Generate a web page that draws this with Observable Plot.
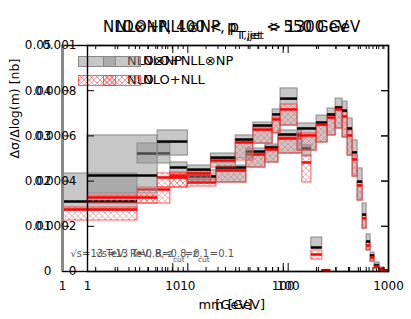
<!DOCTYPE html>
<html><head><meta charset="utf-8">
<script src="https://cdn.jsdelivr.net/npm/d3@7"></script>
<script src="https://cdn.jsdelivr.net/npm/@observablehq/plot@0.6"></script>
<style>
body{margin:0;background:#fff;}
#wrap{position:relative;width:411px;height:319px;overflow:hidden;font-family:"DejaVu Sans",sans-serif;}
.layer{position:absolute;left:0;top:0;width:411px;height:319px;}
.layer svg{position:absolute;left:0;top:0;}
.leg{position:absolute;font-size:13px;line-height:14px;white-space:nowrap;color:#000;}
.gbox{position:absolute;width:36px;height:9px;background:rgba(144,144,144,.5);border:1px solid #888;}
.hbox{position:absolute;width:36px;height:9px;border:1px solid rgba(255,48,48,.7);
 background:repeating-linear-gradient(45deg,transparent 0 3px,rgba(255,80,80,.6) 3px 3.7px),repeating-linear-gradient(-45deg,transparent 0 3px,rgba(255,80,80,.6) 3px 3.7px);}
</style></head>
<body><div id="wrap"><div class="layer" id="la"></div><div class="layer" id="lb"></div></div>
<script>
// ---------- chart B (NLO+NLL ⊗ NP), y up to 0.001 ----------
const edgesB = [1, 5, 10, 17, 30, 45, 70, 84, 124, 192, 247, 297, 349, 391, 439, 492, 552, 605, 663, 727, 815, 914, 1000];
const grayHiB = [0.000602, 0.000624, 0.000469, 0.000522, 0.000602, 0.000659, 0.000717, 0.00081, 0.000655, 0.00069, 0.000721, 0.000765, 0.000752, 0.000677, 0.00058, 0.000456, 0.000301, 0.000164, 0.000084, 0.00004, 0.000018, 0.0000066];
const grayLoB = [0.000345, 0.000513, 0.000403, 0.000478, 0.0005, 0.000566, 0.000611, 0.000646, 0.000535, 0.000571, 0.000602, 0.000633, 0.000593, 0.000513, 0.00042, 0.000314, 0.00019, 0.000093, 0.000044, 0.000013, 0.0000044, 0];
const blackB = [0.000425, 0.000575, 0.000451, 0.000504, 0.000584, 0.000646, 0.000695, 0.000765, 0.000633, 0.000659, 0.000695, 0.000726, 0.000712, 0.000633, 0.000527, 0.000398, 0.000252, 0.000133, 0.000071, 0.000027, 0.000011, 0.0000044];
const redHiB = [0.000336, 0.000434, 0.000447, 0.0005, 0.00058, 0.000637, 0.000681, 0.000739, 0.000611, 0.000659, 0.00069, 0.000726, 0.000704, 0.000624, 0.000513, 0.000394, 0.000248, 0.000128, 0.000071, 0.000031, 0.000013, 0.0000044];
const redLoB = [0.000301, 0.000372, 0.000394, 0.00046, 0.000491, 0.000566, 0.000611, 0.000646, 0.000535, 0.000571, 0.000602, 0.000633, 0.000593, 0.000513, 0.00042, 0.000314, 0.00019, 0.000093, 0.000044, 0.000013, 0.0000044, 0];
const redB = [0.000327, 0.000416, 0.000434, 0.000491, 0.000571, 0.000628, 0.000673, 0.000717, 0.000602, 0.00065, 0.000681, 0.000717, 0.000686, 0.000602, 0.000496, 0.000381, 0.000235, 0.000115, 0.000062, 0.000022, 0.0000088, 0.000003];
const yTicksB = [0, 0.0002, 0.0004, 0.0006, 0.0008, 0.001];
const xTicksB = [1, 10, 100, 1000];
const titleB = "NLO+NLL⊗NP, p_{T,jet} > 1300 GeV";
const legendB = ["NLO+NLL⊗NP", "NLO+NLL"];

// ---------- chart A (NLO ⊗ NP), y up to 0.05 ----------
const edgesA = [1, 4.78, 9.5, 13.6, 24.8, 46.4, 69, 90.5, 149, 180, 226, 268];
const grayHiA = [0.02168, 0.02832, 0.02412, 0.02235, 0.02345, 0.02721, 0.0281, 0.0312, 0.02788, 0.00752, 0.0003];
const grayLoA = [0.0135, 0.0239, 0.02058, 0.02013, 0.01969, 0.02301, 0.02412, 0.0261, 0.02544, 0.00509, 0.0001];
const blackA = [0.01549, 0.0261, 0.02301, 0.02102, 0.02301, 0.02655, 0.02743, 0.03031, 0.02721, 0.00531, 0.0002];
const redHiA = [0.01416, 0.01858, 0.0219, 0.02035, 0.02279, 0.02633, 0.02766, 0.02987, 0.02566, 0.00465, 0.00035];
const redLoA = [0.01128, 0.01504, 0.01858, 0.01881, 0.01969, 0.02301, 0.02412, 0.0261, 0.01969, 0.00265, 0.00005];
const redA = [0.01372, 0.01814, 0.02124, 0.01969, 0.02235, 0.02589, 0.02699, 0.02943, 0.02412, 0.00376, 0.0002];
const yTicksA = [0, 0.01, 0.02, 0.03, 0.04, 0.05];
const xTicksA = [1, 10, 100];
const titleA = "NLO⊗NP, 400 < p_{T,jet} < 550 GeV";
const legendA = ["NLO⊗NP", "NLO"];

const minorX = [2,3,4,5,6,7,8,9,20,30,40,50,60,70,80,90,200,300,400,500,600,700,800,900];
const xLabel = "m [GeV]";
const yLabel = "Δσ/Δlog(m) [nb]";
const note = "√s=13 TeV, R=0.8, z_{cut}=0.1";

function rowsOf(edges, gLo, gHi, k, rLo, rHi, r) {
  return gHi.map((_, i) => ({lo: edges[i], hi: edges[i+1], gLo: gLo[i], gHi: gHi[i], k: k[i], rLo: rLo[i], rHi: rHi[i], r: r[i]}));
}

function subscripts(svg) {
  svg.querySelectorAll("text").forEach(t => {
    const s = t.textContent;
    if (!s.includes("_{")) return;
    while (t.firstChild) t.removeChild(t.firstChild);
    const parts = s.split(/(_\{[^}]*\})/);
    for (const p of parts) {
      if (!p) continue;
      const ts = document.createElementNS("http://www.w3.org/2000/svg", "tspan");
      if (p.startsWith("_{")) {
        ts.textContent = p.slice(2, -1);
        ts.setAttribute("baseline-shift", "sub");
        ts.setAttribute("font-size", "75%");
      } else ts.textContent = p;
      t.appendChild(ts);
    }
  });
}

function chart({rows, xDomain, marginLeft, yMax, yTicks, xTicks, title, pid, showYLabel, leftGray}) {
  const W = 411, H = 319, mt = 45, mb = 48, mr = 23;
  const fh = H - mt - mb, fw = W - marginLeft - mr;
  const marks = [
    Plot.rect(rows, {x1: "lo", x2: "hi", y1: "gLo", y2: "gHi", fill: "#909090", fillOpacity: 0.5, stroke: "#8a8a8a", strokeWidth: 1}),
    Plot.rect(rows, {x1: "lo", x2: "hi", y1: "rLo", y2: "rHi", fill: `url(#${pid})`, stroke: "#ff3030", strokeOpacity: 0.65, strokeWidth: 1.2}),
    Plot.ruleY(rows, {y: "k", x1: "lo", x2: "hi", stroke: "#000", strokeWidth: 2.5}),
    Plot.ruleY(rows, {y: "r", x1: "lo", x2: "hi", stroke: "#ff0000", strokeWidth: 2.5}),
    Plot.tickX(xTicks, {x: d => d, insetTop: fh - 8, stroke: "#000"}),
    Plot.tickX(minorX.filter(v => v <= xDomain[1]), {x: d => d, insetTop: fh - 4, stroke: "#000"}),
    Plot.tickX(xTicks, {x: d => d, insetBottom: fh - 8, stroke: "#000"}),
    Plot.tickX(minorX.filter(v => v <= xDomain[1]), {x: d => d, insetBottom: fh - 4, stroke: "#000"}),
    Plot.tickY(yTicks, {y: d => d, insetRight: fw - 7, stroke: "#000"}),
    Plot.tickY(yTicks, {y: d => d, insetLeft: fw - 7, stroke: "#000"}),
    Plot.frame({stroke: "#000", strokeWidth: 1.4}),
    Plot.text([title], {text: d => d, frameAnchor: "top", dy: -24, fontSize: 15}),
    Plot.text([xLabel], {text: d => d, frameAnchor: "bottom", dy: 37, fontSize: 13}),
    Plot.text([note], {text: d => d, frameAnchor: "bottom-left", dx: 8, dy: -15, textAnchor: "start", fontSize: 10, fill: "#555"})
  ];
  if (leftGray) marks.push(Plot.ruleX([xDomain[0]], {x: d => d, stroke: "#888", strokeWidth: 3}));
  if (showYLabel) marks.push(Plot.text([yLabel], {text: d => d, frameAnchor: "left", dx: -73, rotate: -90, fontSize: 12.5}));
  const svg = Plot.plot({
    width: W, height: H, marginLeft, marginRight: mr, marginTop: mt, marginBottom: mb,
    style: {background: "transparent", fontFamily: "DejaVu Sans", fontSize: "12px", overflow: "visible"},
    x: {type: "log", domain: xDomain, ticks: xTicks, tickFormat: d => String(d), tickSize: 0, tickPadding: 10, label: null},
    y: {domain: [0, yMax], ticks: yTicks, tickFormat: d => String(d), tickSize: 0, tickPadding: 11, label: null},
    marks
  });
  d3.select(svg).insert("defs", ":first-child").html(
    `<pattern id="${pid}" width="6" height="6" patternUnits="userSpaceOnUse"><path d="M0,0L6,6M6,0L0,6" stroke="#ff5050" stroke-width="0.6" stroke-opacity="0.7"/></pattern>`);
  subscripts(svg);
  return svg;
}

function legend(layer, texts, boxX, textX) {
  const add = (cls, x, y, txt) => {
    const e = document.createElement("div");
    e.className = cls; e.style.left = x + "px"; e.style.top = y + "px";
    if (txt) e.textContent = txt;
    layer.appendChild(e);
  };
  add("gbox", boxX, 56);
  add("leg", textX, 54, texts[0]);
  add("hbox", boxX, 75);
  add("leg", textX, 73, texts[1]);
}

const la = document.getElementById("la"), lb = document.getElementById("lb");
la.appendChild(chart({rows: rowsOf(edgesA, grayLoA, grayHiA, blackA, redLoA, redHiA, redA), xDomain: [1, 900], marginLeft: 62, yMax: 0.05, yTicks: yTicksA, xTicks: xTicksA, title: titleA, pid: "hatchA", showYLabel: false, leftGray: true}));
legend(la, legendA, 78, 127);
lb.appendChild(chart({rows: rowsOf(edgesB, grayLoB, grayHiB, blackB, redLoB, redHiB, redB), xDomain: [1, 1000], marginLeft: 87, yMax: 0.001, yTicks: yTicksB, xTicks: xTicksB, title: titleB, pid: "hatchB", showYLabel: true, leftGray: false}));
legend(lb, legendB, 103, 143);
</script></body></html>
